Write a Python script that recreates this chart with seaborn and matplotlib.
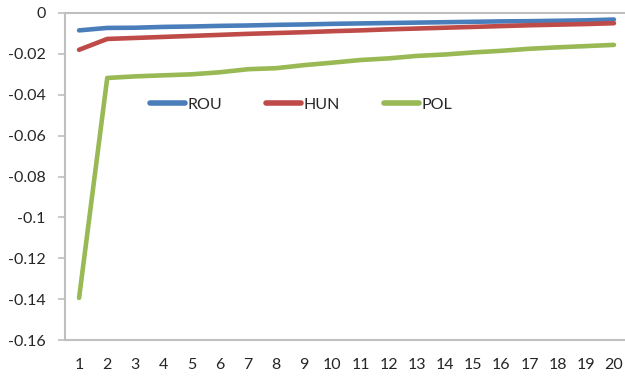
import matplotlib
matplotlib.use("Agg")
import matplotlib.pyplot as plt
import seaborn as sns
import pandas as pd

periods = list(range(1, 21))
rou = [-0.0085, -0.0073, -0.0072, -0.0068, -0.0066, -0.0063, -0.0061, -0.0058, -0.0056, -0.0053,
       -0.0051, -0.0049, -0.0047, -0.0045, -0.0043, -0.0041, -0.0040, -0.0038, -0.0036, -0.0032]
hun = [-0.0180, -0.0127, -0.0122, -0.0117, -0.0112, -0.0107, -0.0102, -0.0098, -0.0094, -0.0089,
       -0.0085, -0.0080, -0.0076, -0.0072, -0.0068, -0.0064, -0.0060, -0.0057, -0.0054, -0.0050]
pol = [-0.1394, -0.0318, -0.0310, -0.0305, -0.0300, -0.0290, -0.0275, -0.0270, -0.0255, -0.0243,
       -0.0230, -0.0222, -0.0210, -0.0203, -0.0193, -0.0185, -0.0175, -0.0168, -0.0162, -0.0156]
series_names = ["ROU", "HUN", "POL"]
y_ticks = [0, -0.02, -0.04, -0.06, -0.08, -0.1, -0.12, -0.14, -0.16]
y_tick_labels = ["0", "-0.02", "-0.04", "-0.06", "-0.08", "-0.1", "-0.12", "-0.14", "-0.16"]

df = pd.DataFrame({
    "period": periods * 3,
    "value": rou + hun + pol,
    "country": sum([[n] * len(periods) for n in series_names], []),
})

sns.set_style("white")
plt.rcParams["font.family"] = ["Lato", "DejaVu Sans"]

fig = plt.figure(figsize=(6.25, 3.79), dpi=100)
ax = fig.add_axes([65 / 625, 1 - 340 / 379, (628 - 65) / 625, (340 - 13) / 379])

palette = {"ROU": "#4A7EBB", "HUN": "#BE4B48", "POL": "#98B954"}
sns.lineplot(data=df, x="period", y="value", hue="country", palette=palette,
             linewidth=3.3, ax=ax, solid_capstyle="round")

fs = 11.5
ax.set_xlim(0.5, 20.5)
ax.set_ylim(-0.16, 0)
ax.set_xticks(periods)
ax.set_xticklabels([str(p) for p in periods], fontsize=fs)
ax.set_yticks(y_ticks)
ax.set_yticklabels(y_tick_labels, fontsize=fs)
ax.set_xlabel("")
ax.set_ylabel("")

axis_gray = "#BFBFBF"
for side in ["left", "bottom", "top"]:
    ax.spines[side].set_visible(True)
    ax.spines[side].set_color(axis_gray)
    ax.spines[side].set_linewidth(1.5)
ax.spines["right"].set_visible(False)
ax.tick_params(axis="y", which="both", left=True, length=5, width=1.2, color=axis_gray, pad=9)
ax.tick_params(axis="x", which="both", bottom=False, length=0, pad=13)

leg = ax.legend(loc="center left", bbox_to_anchor=(0.151, 0.72), ncol=3, frameon=False,
                borderaxespad=0, borderpad=0,
                handlelength=2.2, handletextpad=0.15, columnspacing=2.75, fontsize=fs)
for line in leg.get_lines():
    line.set_linewidth(4)

fig.savefig("out.png", dpi=100)
